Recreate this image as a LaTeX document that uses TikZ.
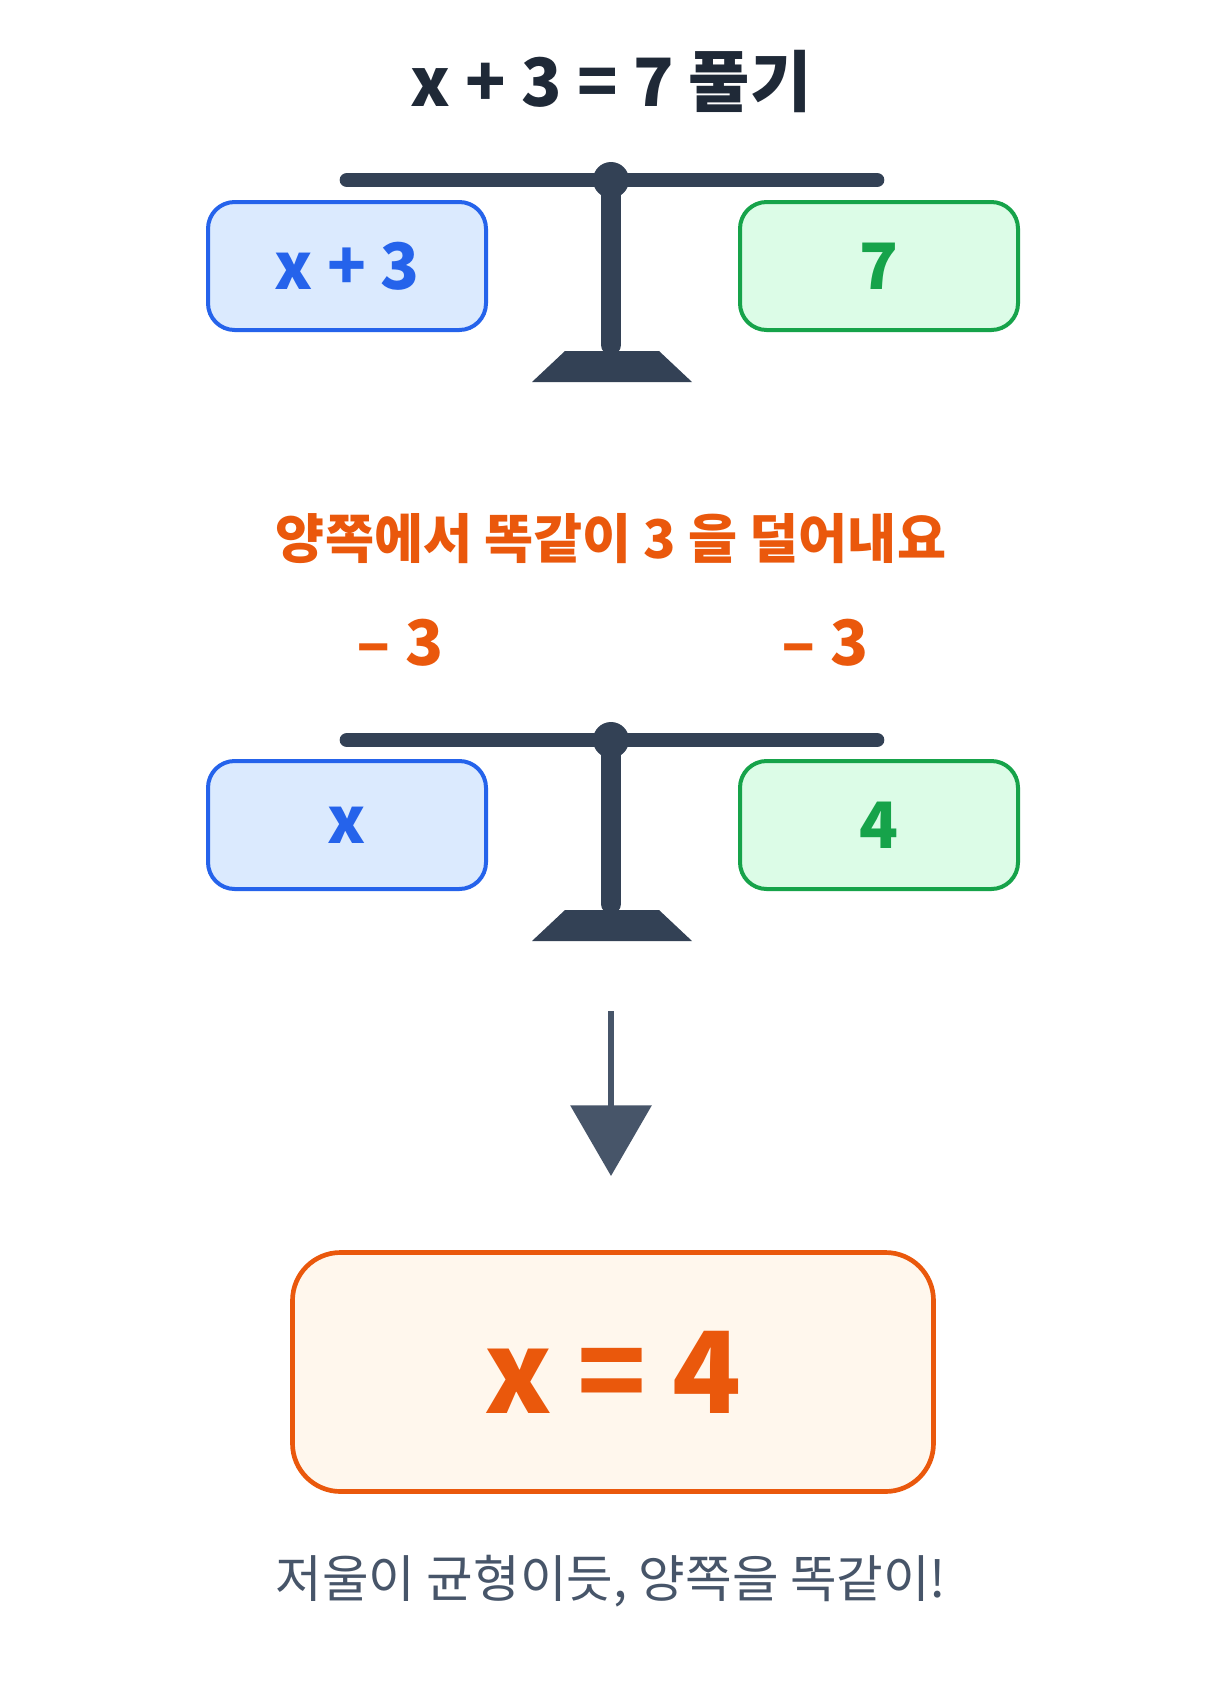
\documentclass[tikz,border=0pt]{standalone}
\usepackage{fontspec}
\setmainfont{Noto Sans CJK KR}
\usetikzlibrary{arrows.meta}
\definecolor{cslate}{HTML}{334155}
\definecolor{ctitle}{HTML}{1F2937}
\definecolor{carrow}{HTML}{475569}
\definecolor{corange}{HTML}{EA580C}
\definecolor{cblue}{HTML}{2563EB}
\definecolor{cbluefill}{HTML}{DBEAFE}
\definecolor{cgreen}{HTML}{16A34A}
\definecolor{cgreenfill}{HTML}{DCFCE7}
\definecolor{cresfill}{HTML}{FFF7ED}
\begin{document}
\begin{tikzpicture}[x=0.75pt,y=-0.75pt,
  pan/.style={rounded corners=20pt, line width=3pt, minimum width=208.5pt, minimum height=96pt, inner sep=0pt, font=\bfseries\fontsize{48}{48}\selectfont},
  lpan/.style={pan, draw=cblue, fill=cbluefill, text=cblue},
  rpan/.style={pan, draw=cgreen, fill=cgreenfill, text=cgreen},
  beam/.style={line width=11pt, line cap=round, draw=cslate},
  post/.style={line width=15pt, line cap=round, draw=cslate},
  orangetxt/.style={text=corange, font=\bfseries\fontsize{47}{47}\selectfont},
  arrowline/.style={line width=5pt, draw=carrow, -{Triangle[width=60pt,length=53pt]}}
]
\useasboundingbox[fill=white] (0,0) rectangle (1227,1707);
% title
\node[text=ctitle, font=\bfseries\fontsize{50}{50}\selectfont] (title) at (611,81) {x + 3 = 7 풀기};
% scale 1
\draw[beam] (347,180) -- (877,180);
\draw[post] (611,180) -- (611,345);
\fill[cslate] (611,180) circle[radius=13.5pt];
\fill[cslate] (565,351) -- (659,351) -- (692,382) -- (532,382) -- cycle;
\node[lpan] (l1) at (347,266) {x + 3};
\node[rpan] (r1) at (879,266) {7};
% instruction
\node[text=corange, font=\bfseries\fontsize{40}{40}\selectfont] (instr) at (611,539) {양쪽에서 똑같이 3 을 덜어내요};
\node[orangetxt] (m1) at (400,643) {– 3};
\node[orangetxt] (m2) at (825,643) {– 3};
% scale 2
\draw[beam] (347,740) -- (877,740);
\draw[post] (611,740) -- (611,904);
\fill[cslate] (611,740) circle[radius=13.5pt];
\fill[cslate] (565,910) -- (659,910) -- (692,941) -- (532,941) -- cycle;
\node[lpan] (l2) at (347,825) {x};
\node[rpan] (r2) at (879,825) {4};
% arrow
\coordinate (a1) at (611,1011);
\coordinate (a2) at (611,1176);
\draw[arrowline] (a1) -- (a2);
% result
\node[rounded corners=36pt, line width=3.5pt, draw=corange, fill=cresfill, text=corange,
  minimum width=480.75pt, minimum height=179.25pt, inner sep=0pt,
  font=\bfseries\fontsize{85}{85}\selectfont] (res) at (613,1372) {x = 4};
% footer
\node[text=carrow, font=\fontsize{38}{38}\selectfont] (foot) at (611,1581) {저울이 균형이듯, 양쪽을 똑같이!};
\end{tikzpicture}
\end{document}
